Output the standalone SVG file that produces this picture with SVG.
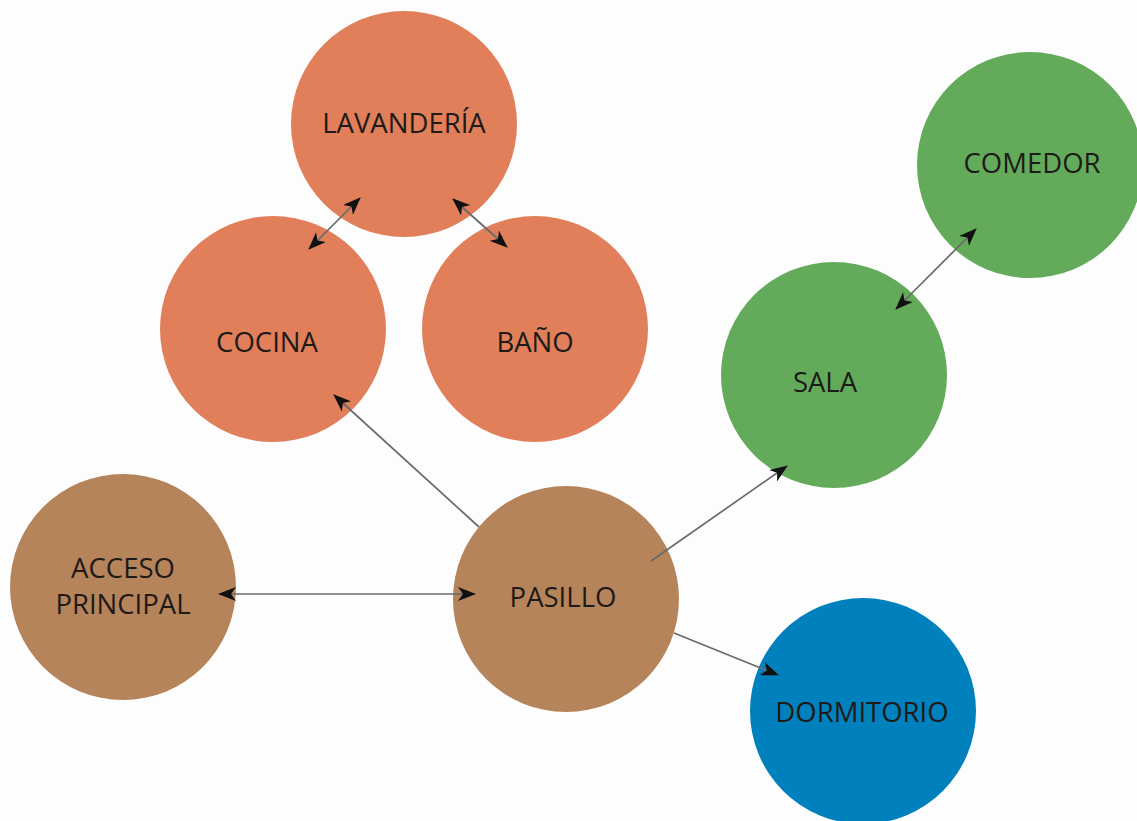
<svg xmlns="http://www.w3.org/2000/svg" width="1137" height="821" viewBox="0 0 1137 821">
<style>
.lbl{font-family:"Open Sans","Liberation Sans",sans-serif;font-size:27.5px;fill:#1e1a18;text-anchor:middle}
.orange{fill:#e07f5a}
.green{fill:#63ab5a}
.brown{fill:#b5845b}
.blue{fill:#0080bd}
.edge{stroke:#6a6a6a;stroke-width:1.7;fill:none}
</style>
<defs>
<marker id="ah" viewBox="0 0 18 14" refX="17" refY="7" markerWidth="18" markerHeight="14" markerUnits="userSpaceOnUse" orient="auto-start-reverse">
<path d="M0,0 L18,7 L0,14 L5,7 Z" fill="#111"/>
</marker>
</defs>
<rect width="1137" height="821" fill="#fdfdfd"/>
<g id="lavanderia"><circle class="orange" cx="404" cy="124" r="113"/><text class="lbl" x="404" y="133">LAVANDERÍA</text></g>
<g id="cocina"><circle class="orange" cx="273" cy="329" r="113"/><text class="lbl" x="267" y="352">COCINA</text></g>
<g id="bano"><circle class="orange" cx="535" cy="329" r="113"/><text class="lbl" x="535" y="352">BAÑO</text></g>
<g id="comedor"><circle class="green" cx="1030" cy="165" r="113"/><text class="lbl" x="1032" y="173">COMEDOR</text></g>
<g id="sala"><circle class="green" cx="834" cy="375" r="113"/><text class="lbl" x="825" y="392">SALA</text></g>
<g id="acceso"><circle class="brown" cx="123" cy="587" r="113"/><text class="lbl" x="123" y="578">ACCESO</text><text class="lbl" x="123" y="614">PRINCIPAL</text></g>
<g id="pasillo"><circle class="brown" cx="566" cy="599" r="113"/><text class="lbl" x="563" y="607">PASILLO</text></g>
<g id="dormitorio"><circle class="blue" cx="863" cy="711" r="113"/><text class="lbl" x="862" y="722">DORMITORIO</text></g>
<g id="connectors">
<line class="edge" x1="360" y1="198" x2="309" y2="249" marker-start="url(#ah)" marker-end="url(#ah)"/>
<line class="edge" x1="453" y1="199" x2="507" y2="247" marker-start="url(#ah)" marker-end="url(#ah)"/>
<line class="edge" x1="976" y1="229" x2="896" y2="309" marker-start="url(#ah)" marker-end="url(#ah)"/>
<line class="edge" x1="219" y1="594" x2="475" y2="594" marker-start="url(#ah)" marker-end="url(#ah)"/>
<line class="edge" x1="479" y1="527" x2="334" y2="395" marker-end="url(#ah)"/>
<line class="edge" x1="651" y1="561" x2="787" y2="466" marker-end="url(#ah)"/>
<line class="edge" x1="674" y1="633" x2="778" y2="675" marker-end="url(#ah)"/>
</g>
</svg>
